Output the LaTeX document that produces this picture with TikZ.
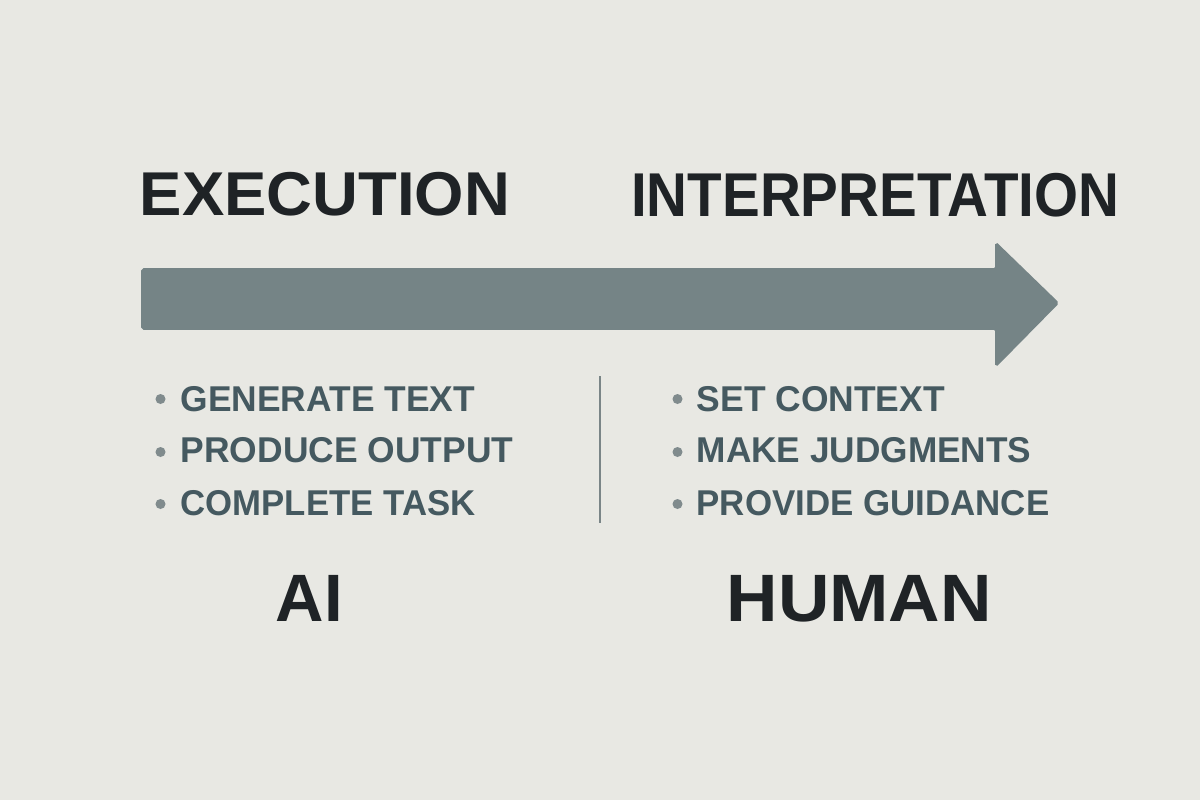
\documentclass[tikz,border=0pt]{standalone}
\usepackage{fontspec}
\setmainfont{Liberation Sans}
\usepackage{graphicx}
\definecolor{bgc}{HTML}{E8E8E3}
\definecolor{arrowc}{HTML}{758486}
\definecolor{titlec}{HTML}{1F2326}
\definecolor{itemc}{HTML}{455960}
\definecolor{dotc}{HTML}{808B8D}
\definecolor{divc}{HTML}{7A8587}
\tikzset{
  bigtitle/.style={anchor=base west, inner sep=0pt, text=titlec, font=\bfseries\fontsize{17.6pt}{20pt}\selectfont},
  actor/.style={anchor=base west, inner sep=0pt, text=titlec, font=\bfseries\fontsize{19.06pt}{22pt}\selectfont},
  itemtext/.style={anchor=base west, inner sep=0pt, text=itemc, font=\bfseries\fontsize{10.2pt}{12pt}\selectfont},
  bulletdot/.style={circle, fill=dotc, inner sep=0pt, minimum size=0.10cm},
  flowarrow/.style={fill=arrowc, draw=arrowc, line width=0.5pt, rounded corners=0.5pt},
  divider/.style={draw=divc, line width=0.02cm}
}
\begin{document}
\begin{tikzpicture}[x=0.01cm,y=-0.01cm]
\fill[bgc] (0,0) rectangle (1200,800);
\useasboundingbox (0,0) rectangle (1200,800);
% titles
\node[bigtitle] (exec) at (139,215.5) {\resizebox{3.70cm}{\height}{EXECUTION}};
\node[bigtitle] (interp) at (630.5,216) {\resizebox{4.88cm}{\height}{INTERPRETATION}};
% arrow
\path[flowarrow] (142,269) -- (996,269) -- (996,243) -- (1058,303) -- (996,366) -- (996,329) -- (142,329) -- cycle;
% divider
\coordinate (dtop) at (600,376);
\coordinate (dbot) at (600,523);
\draw[divider] (dtop) -- (dbot);
% left items
\node[bulletdot] (l1d) at (160.5,399) {};
\node[bulletdot] (l2d) at (160.5,452) {};
\node[bulletdot] (l3d) at (160.5,504) {};
\node[itemtext] (l1) at (180,411) {\resizebox{2.94cm}{\height}{GENERATE TEXT}};
\node[itemtext] (l2) at (180,462) {\resizebox{3.325cm}{\height}{PRODUCE OUTPUT}};
\node[itemtext] (l3) at (180,515) {\resizebox{2.945cm}{\height}{COMPLETE TASK}};
% right items
\node[bulletdot] (r1d) at (677.5,399) {};
\node[bulletdot] (r2d) at (677.5,452) {};
\node[bulletdot] (r3d) at (677.5,504) {};
\node[itemtext] (r1) at (696,411) {\resizebox{2.48cm}{\height}{SET CONTEXT}};
\node[itemtext] (r2) at (696,462) {\resizebox{3.345cm}{\height}{MAKE JUDGMENTS}};
\node[itemtext] (r3) at (696,515) {\resizebox{3.525cm}{\height}{PROVIDE GUIDANCE}};
% actors
\node[actor] (ai) at (275,621) {\resizebox{0.67cm}{\height}{AI}};
\node[actor] (human) at (726,621) {\resizebox{2.65cm}{\height}{HUMAN}};
\end{tikzpicture}
\end{document}
